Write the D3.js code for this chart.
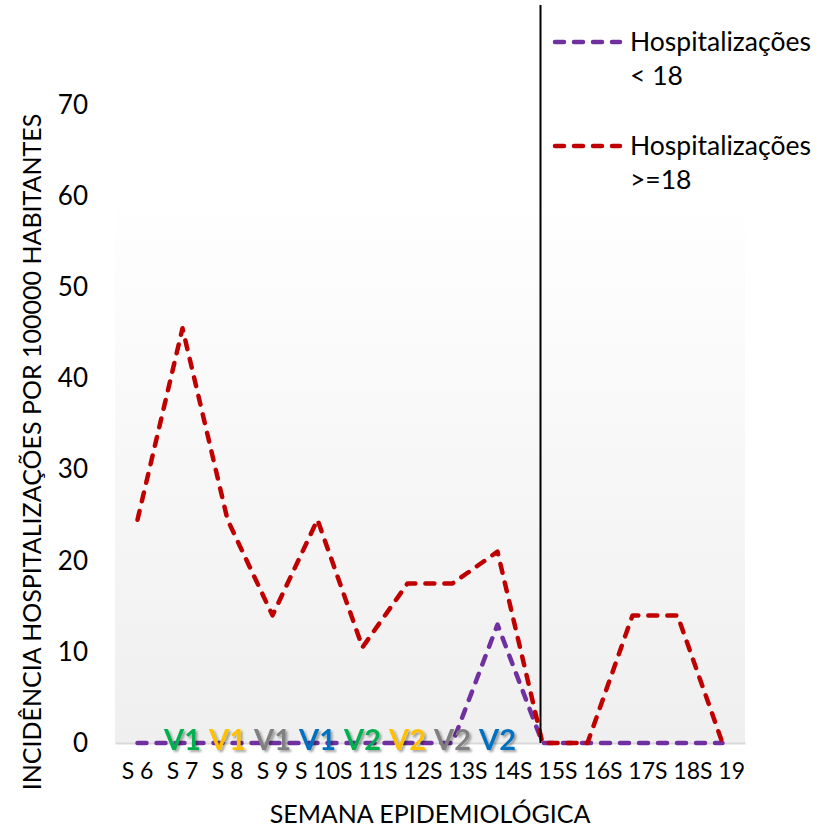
<!DOCTYPE html>
<html>
<head>
<meta charset="utf-8">
<script src="https://cdn.jsdelivr.net/npm/d3@7"></script>
<style>
  html, body { margin: 0; padding: 0; background: #fff; }
  svg { display: block; font-family: Lato, "Open Sans", sans-serif; }
</style>
</head>
<body>
<svg id="chart" width="830" height="828"></svg>
<script>
// ---- data ----
const weeks = ["S 6","S 7","S 8","S 9","S 10","S 11","S 12","S 13","S 14","S 15","S 16","S 17","S 18","S 19"];
const hospAdults = [24.5, 45.5, 24.5, 14, 24.5, 10.5, 17.5, 17.5, 21, 0, 0, 14, 14, 0];
const hospMinors = [0, 0, 0, 0, 0, 0, 0, 0, 13, 0, 0, 0, 0, 0];
const vaccineWeeks = ["S 7","S 8","S 9","S 10","S 11","S 12","S 13","S 14"];
const vaccineLabels = ["V1","V1","V1","V1","V2","V2","V2","V2"];
const vaccineColors = ["#00B050","#FFC000","#808080","#0070C0","#00B050","#FFC000","#808080","#0070C0"];
const yTicks = [0, 10, 20, 30, 40, 50, 60, 70];
const markerWeek = "S 15";
const seriesNames = [["Hospitalizações", "< 18"], ["Hospitalizações", ">=18"]];

// ---- layout ----
const svg = d3.select("#chart");
const plot = { left: 115, right: 745, top: 190, bottom: 743 };

const x = d3.scaleBand().domain(weeks).range([plot.left, plot.right]).padding(0);
const cx = d => x(d) + x.bandwidth() / 2;
const y = d3.scaleLinear().domain([0, 70]).range([743, 105]);

const defs = svg.append("defs");
const grad = defs.append("linearGradient").attr("id", "bg").attr("x1", 0).attr("y1", 0).attr("x2", 0).attr("y2", 1);
grad.append("stop").attr("offset", "0%").attr("stop-color", "#ffffff");
grad.append("stop").attr("offset", "100%").attr("stop-color", "#efefef");
const flt = defs.append("filter").attr("id", "shadow").attr("x", "-20%").attr("y", "-20%").attr("width", "150%").attr("height", "150%");
flt.append("feDropShadow").attr("dx", 2).attr("dy", 2).attr("stdDeviation", 1.2)
  .attr("flood-color", "#000").attr("flood-opacity", 0.35);

svg.append("rect")
  .attr("x", plot.left).attr("y", plot.top)
  .attr("width", plot.right - plot.left).attr("height", plot.bottom - plot.top)
  .attr("fill", "url(#bg)");

// y axis (labels only)
const yAxis = svg.append("g").attr("transform", `translate(88,0)`)
  .call(d3.axisLeft(y).tickValues(yTicks).tickSize(0).tickPadding(0));
yAxis.select(".domain").remove();
yAxis.selectAll("text").attr("font-size", 26).attr("font-family", "Lato, sans-serif").attr("fill", "#000");

// x axis
const xAxis = svg.append("g").attr("transform", `translate(0,${plot.bottom})`)
  .call(d3.axisBottom(x).tickSize(0).tickSizeOuter(0).tickPadding(20));
xAxis.select(".domain").attr("stroke", "#d9d9d9").attr("stroke-width", 2);
xAxis.selectAll("text").attr("font-size", 23).attr("font-family", "Lato, sans-serif").attr("fill", "#000");

// lines
const line = d3.line().x((d, i) => cx(weeks[i])).y(d => y(d));
const dash = "9,10";
svg.append("path").datum(hospMinors).attr("d", line)
  .attr("fill", "none").attr("stroke", "#7030A0").attr("stroke-width", 4.5)
  .attr("stroke-dasharray", dash).attr("stroke-linecap", "round").attr("stroke-linejoin", "round");
svg.append("path").datum(hospAdults).attr("d", line)
  .attr("fill", "none").attr("stroke", "#C00000").attr("stroke-width", 4.5)
  .attr("stroke-dasharray", dash).attr("stroke-linecap", "round").attr("stroke-linejoin", "round");

// vaccine labels
svg.append("g").selectAll("text").data(vaccineLabels).join("text")
  .attr("x", (d, i) => cx(vaccineWeeks[i]))
  .attr("y", y(0) + 7)
  .attr("text-anchor", "middle")
  .attr("font-size", 29).attr("font-weight", "bold")
  .attr("font-family", "Lato, sans-serif")
  .attr("fill", (d, i) => vaccineColors[i])
  .attr("filter", "url(#shadow)")
  .text(d => d);

// vertical marker line
svg.append("line")
  .attr("x1", cx(markerWeek) - 2).attr("x2", cx(markerWeek) - 2)
  .attr("y1", 5).attr("y2", y(0))
  .attr("stroke", "#000").attr("stroke-width", 2);

// axis titles
svg.append("text")
  .attr("transform", `translate(41,452) rotate(-90)`)
  .attr("text-anchor", "middle")
  .attr("font-size", 25).attr("font-family", "Lato, sans-serif")
  .text("INCIDÊNCIA HOSPITALIZAÇÕES POR 100000 HABITANTES");
svg.append("text")
  .attr("x", 430).attr("y", 823)
  .attr("text-anchor", "middle")
  .attr("font-size", 25).attr("font-family", "Lato, sans-serif")
  .text("SEMANA EPIDEMIOLÓGICA");

// legend
const legColors = ["#7030A0", "#C00000"];
const leg = svg.append("g").selectAll("g").data(seriesNames).join("g")
  .attr("transform", (d, i) => `translate(0,${42 + i * 104})`);
leg.append("line").attr("x1", 555).attr("x2", 620).attr("y1", 0).attr("y2", 0)
  .attr("stroke", (d, i) => legColors[i]).attr("stroke-width", 4.5)
  .attr("stroke-dasharray", dash).attr("stroke-linecap", "round");
leg.append("text").attr("x", 630).attr("y", 9)
  .attr("font-size", 26.5).attr("font-family", "Lato, sans-serif")
  .text(d => d[0]);
leg.append("text").attr("x", 630).attr("y", 43)
  .attr("font-size", 26.5).attr("font-family", "Lato, sans-serif")
  .text(d => d[1]);
</script>
</body>
</html>
